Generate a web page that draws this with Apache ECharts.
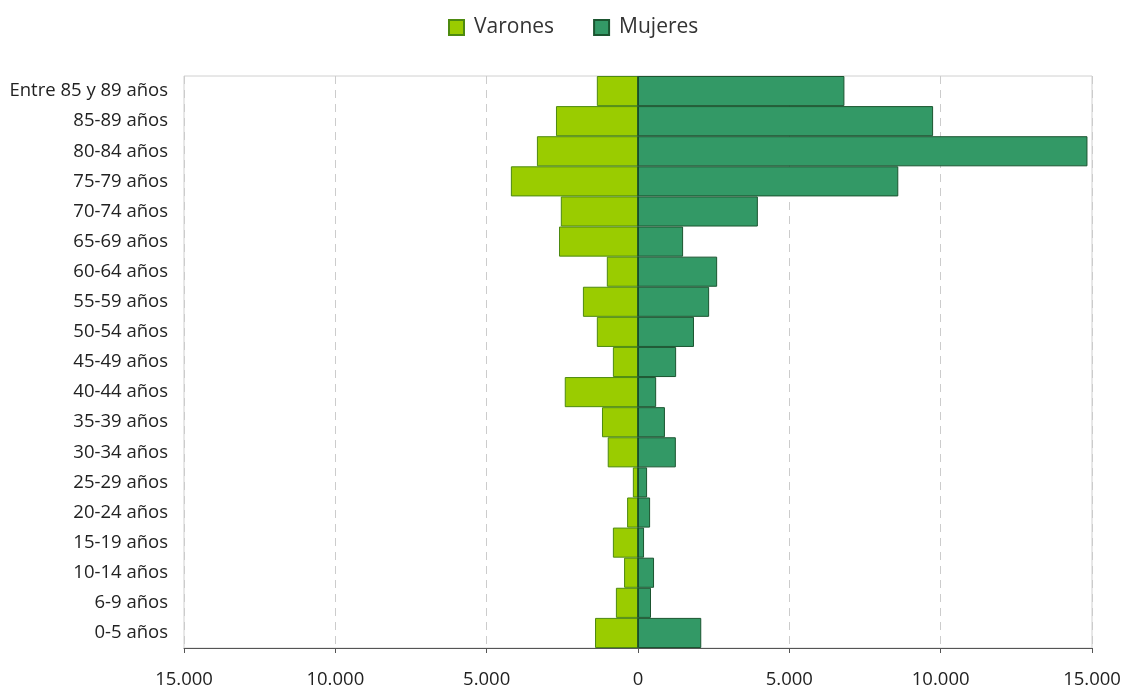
<!DOCTYPE html>
<html><head><meta charset="utf-8">
<script src="https://cdn.jsdelivr.net/npm/echarts@6/dist/echarts.min.js"></script>
<style>html,body{margin:0;padding:0;background:#fff}#c{width:1123px;height:689px}</style>
</head><body><div id="c"></div>
<script>
const categories = ["0-5 años","6-9 años","10-14 años","15-19 años","20-24 años","25-29 años","30-34 años","35-39 años","40-44 años","45-49 años","50-54 años","55-59 años","60-64 años","65-69 años","70-74 años","75-79 años","80-84 años","85-89 años","Entre 85 y 89 años"];
const varones = [1420,730,460,830,360,170,1000,1190,2420,830,1360,1820,1030,2610,2550,4200,3340,2710,1360];
const mujeres = [2090,430,530,200,400,300,1250,890,600,1260,1850,2350,2615,1490,3960,8600,14850,9750,6820];
const xTicks = [-15000,-10000,-5000,0,5000,10000,15000];

const fmt = v => Math.abs(v).toLocaleString('de-DE');
const chart = echarts.init(document.getElementById('c'));
chart.setOption({
  animation:false,
  textStyle:{fontFamily:'Open Sans'},
  legend:{top:12,left:443,itemWidth:15,itemHeight:15,itemGap:39,icon:'rect',
    textStyle:{fontSize:21,color:'#333',fontFamily:'Open Sans',padding:[0,0,0,5]},
    data:['Varones','Mujeres']},
  grid:{left:184,right:31,top:76,bottom:41,show:true,borderColor:'#d0d0d0',borderWidth:1,
    containLabel:false,outerBoundsMode:'none'},
  xAxis:{type:'value',min:xTicks[0],max:xTicks[xTicks.length-1],interval:5000,
    axisLine:{show:true,lineStyle:{color:'#555'}},
    axisTick:{show:true,length:5,lineStyle:{color:'#555'}},
    axisLabel:{formatter:fmt,fontSize:18.5,color:'#222',margin:22},
    splitLine:{show:true,lineStyle:{type:[8,6],color:'#ccc'}}},
  yAxis:{type:'category',data:categories,
    axisLine:{show:false,onZero:false},
    axisTick:{show:false},
    axisLabel:{fontSize:18.5,color:'#222',margin:16}},
  series:[
    {name:'Varones',type:'bar',stack:'p',barCategoryGap:0,
     data:varones.map(v=>-v),
     itemStyle:{color:'#9acc00',borderColor:'#4d8a10',borderWidth:1}},
    {name:'Mujeres',type:'bar',stack:'p',barCategoryGap:0,
     data:mujeres,
     itemStyle:{color:'#339966',borderColor:'#1b5530',borderWidth:1},
     markLine:{silent:true,symbol:'none',label:{show:false},
       lineStyle:{color:'#1a4d2a',width:1.5,type:'solid'},
       data:[{xAxis:0}]}}
  ]
});
</script></body></html>
